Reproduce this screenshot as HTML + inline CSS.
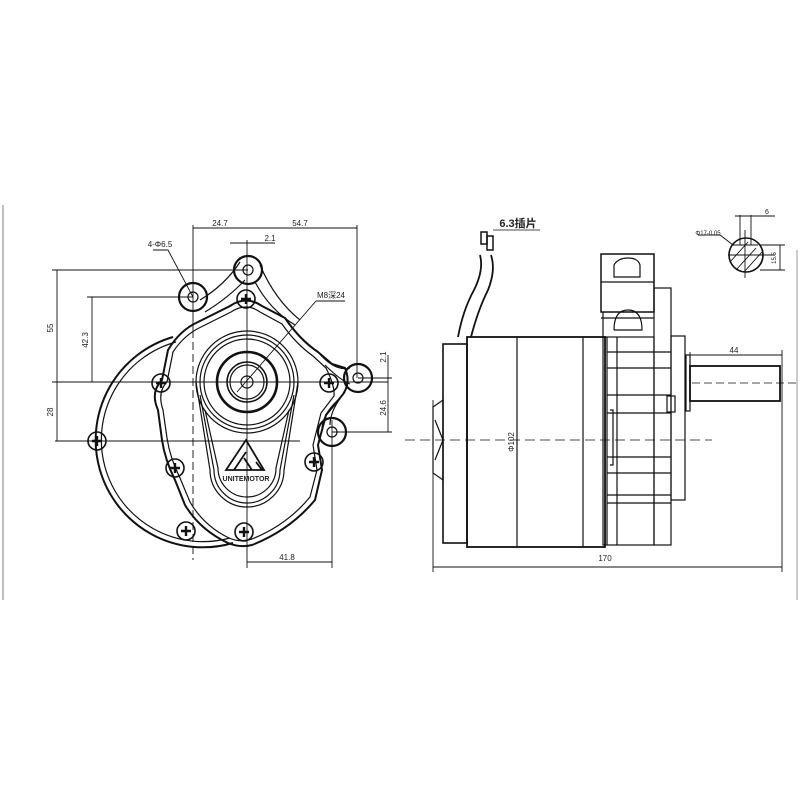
<!DOCTYPE html>
<html><head><meta charset="utf-8"><style>
html,body{margin:0;padding:0;background:#fff;}
svg{display:block;}
text{font-family:"Liberation Sans","Noto Sans CJK SC",sans-serif;fill:#222;}
</style></head><body>
<svg width="800" height="800" viewBox="0 0 800 800" xmlns="http://www.w3.org/2000/svg">
<rect width="800" height="800" fill="#fff"/>
<line x1="3" y1="205" x2="3" y2="600" stroke="#aaa" stroke-width="1.5"/>
<line x1="797" y1="250" x2="797" y2="600" stroke="#bbb" stroke-width="1.5"/>

<g fill="none" stroke="#111" stroke-width="1.2">
<!-- LEFT VIEW -->
<path d="M173,337 A103,103 0 1 0 233,543" stroke-width="2"/>
<path d="M176,342 A98,98 0 1 0 230,538"/>
<path d="M198,322 L230,306 Q246,295 262,306 L285,318 Q300,340 318,352 L332,364 L345,368 Q352,385 340,398 L326,415 L318,445 L322,470 L315,500 Q290,530 252,545 Q240,548 228,543 Q200,530 185,505 L175,480 Q165,460 162,440 L158,410 Q150,392 162,380 L168,350 Q180,330 198,322 Z" stroke-width="2"/>
<path d="M201,327 L231,312 Q246,302 260,312 L282,324 Q296,344 313,356 L326,368 Q335,386 334,396 L321,413 L313,445 L317,470 L310,497 Q287,525 252,539 Q240,543 229,538 Q204,526 190,502 L180,478 Q170,458 167,438 L163,410 Q157,392 167,382 L173,352 Q184,335 201,327 Z"/>
<path d="M200,300 Q225,285 240,262 M205,312 Q228,298 245,280 M260,265 Q275,300 300,320 M255,282 Q270,310 295,325"/>
<path d="M318,352 Q335,372 350,368 M325,365 Q340,380 350,384 M345,392 Q330,410 330,425 M338,400 Q322,415 322,430"/>
<circle cx="248" cy="270" r="14" stroke-width="2.2"/><circle cx="248" cy="270" r="5"/>
<circle cx="193" cy="297" r="14" stroke-width="2.2"/><circle cx="193" cy="297" r="5"/>
<circle cx="358" cy="378" r="14" stroke-width="2.2"/><circle cx="358" cy="378" r="5"/>
<circle cx="332" cy="432" r="14" stroke-width="2.2"/><circle cx="332" cy="432" r="5"/>
<g stroke-width="1.6">
<circle cx="246" cy="299" r="9"/><circle cx="161" cy="383" r="9"/><circle cx="329" cy="383" r="9"/>
<circle cx="97" cy="441" r="9"/><circle cx="175" cy="468" r="9"/><circle cx="186" cy="531" r="9"/>
<circle cx="244" cy="532" r="9"/><circle cx="314" cy="462" r="9"/>
</g>
<g stroke-width="2.4">
<path d="M241,299h10M246,294v10 M156,383h10M161,378v10 M324,383h10M329,378v10 M92,441h10M97,436v10 M170,468h10M175,463v10 M181,531h10M186,526v10 M239,532h10M244,527v10 M309,462h10M314,457v10"/>
</g>
<circle cx="247" cy="382" r="51"/><circle cx="247" cy="382" r="47"/><circle cx="247" cy="382" r="43"/>
<path d="M196,382 L210,470 A37,37 0 0 0 284,470 L298,382"/>
<path d="M200,395 L214,470 A33,33 0 0 0 280,470 L294,395"/>
<path d="M205,410 L218,468 A29,29 0 0 0 276,468 L289,410"/>
<circle cx="247" cy="382" r="30" stroke-width="2.6"/>
<circle cx="247" cy="382" r="20" stroke-width="1.6"/><circle cx="247" cy="382" r="17"/>
<circle cx="247" cy="382" r="6"/>
<path d="M226,470 L246,440 L264,470 Z M234,470 L246,452 M252,470 L244,458 M256,462 L262,470" stroke-width="1.8"/>
<g stroke-width="0.9">
<line x1="52" y1="382" x2="388" y2="382"/>
<line x1="247" y1="240" x2="247" y2="568"/>
<line x1="55" y1="441" x2="300" y2="441"/>
<line x1="193" y1="225" x2="193" y2="330" />
<line x1="193" y1="330" x2="193" y2="560" stroke-dasharray="8,4"/>
<line x1="332" y1="420" x2="332" y2="568"/>
<line x1="357" y1="225" x2="357" y2="378"/>
<line x1="193" y1="228" x2="357" y2="228"/>
<line x1="230" y1="243" x2="275" y2="243"/>
<line x1="52" y1="270" x2="248" y2="270"/>
<line x1="87" y1="297" x2="193" y2="297"/>
<line x1="57" y1="270" x2="57" y2="441"/>
<line x1="92" y1="297" x2="92" y2="382"/>
<line x1="358" y1="378" x2="392" y2="378"/>
<line x1="332" y1="432" x2="392" y2="432"/>
<line x1="388" y1="355" x2="388" y2="432"/>
<line x1="247" y1="562" x2="332" y2="562"/>
<path d="M153,250 L168,250 L193,297 M316,301 L345,301 M316,301 L237,392"/>
</g>
</g>
<g font-size="8" text-anchor="middle">
<text x="220" y="226">24.7</text>
<text x="300" y="226">54.7</text>
<text x="270" y="241">2.1</text>
<text x="287" y="560">41.8</text>
<text x="160" y="247">4-Φ6.5</text>
<text x="331" y="298">M8深24</text>
<text transform="translate(53,328) rotate(-90)">55</text>
<text transform="translate(88,340) rotate(-90)">42.3</text>
<text transform="translate(53,412) rotate(-90)">28</text>
<text transform="translate(386,357) rotate(-90)">2.1</text>
<text transform="translate(386,408) rotate(-90)">24.6</text>
<text x="246" y="481" font-size="7" font-weight="bold">UNITEMOTOR</text>
</g>

<!-- RIGHT VIEW -->
<g fill="none" stroke="#111" stroke-width="1.2">
<rect x="467" y="337" width="138" height="210" stroke-width="1.8"/>
<line x1="517" y1="337" x2="517" y2="547"/><line x1="583" y1="337" x2="583" y2="547"/>
<rect x="443" y="344" width="24" height="199" stroke-width="1.6"/>
<path d="M433,407 L443,400 L443,480 L433,473 Z M435,420 L443,440 L435,460"/>
<rect x="603" y="337" width="51" height="208"/>
<line x1="607" y1="337" x2="607" y2="545"/><line x1="617" y1="337" x2="617" y2="545"/>
<rect x="654" y="288" width="17" height="257"/>
<rect x="601" y="254" width="53" height="58" stroke-width="1.5"/>
<line x1="601" y1="282" x2="654" y2="282"/>
<path d="M614,265 Q618,258 628,258 Q638,258 640,265 L640,277 L614,277 Z M614,330 Q614,310 628,310 Q642,310 642,330 L614,330"/>
<path d="M603,312 L603,337 M601,318 L654,318"/>
<path d="M607,352H671 M607,368H671 M607,395H671 M607,413H671 M607,457H671 M607,473H671 M607,495H671 M607,503H671"/>
<path d="M610,410 L613,410 L613,465 L610,465"/>
<rect x="671" y="336" width="14" height="164"/>
<rect x="667" y="396" width="8" height="16"/>
<rect x="686" y="355" width="4" height="56"/>
<rect x="690" y="366" width="90" height="35" stroke-width="1.8"/>
<line x1="692" y1="383" x2="800" y2="383" stroke-dasharray="8,4" stroke-width="0.8"/>
<line x1="405" y1="440" x2="712" y2="440" stroke-dasharray="10,5" stroke-width="0.8"/>
<path d="M458,337 Q463,310 474,290 Q484,270 480,255 M471,337 Q478,310 488,290 Q496,270 491,255" stroke-width="1.8"/>
<rect x="481" y="232" width="6" height="12" stroke-width="1.5"/>
<rect x="487" y="236" width="6" height="14" stroke-width="1.5"/>
<line x1="493" y1="230" x2="540" y2="230" stroke-width="0.8"/>
<g stroke-width="0.9">
<line x1="433" y1="400" x2="433" y2="572"/>
<line x1="782" y1="350" x2="782" y2="572"/>
<line x1="433" y1="567" x2="782" y2="567"/>
<line x1="690" y1="355" x2="782" y2="355"/>
<line x1="690" y1="352" x2="690" y2="366"/>
</g>
<circle cx="746" cy="255" r="17" stroke-width="1.6"/>
<path d="M733,245 L758,245 M736,270 L756,248 M730,262 L748,242 M744,272 L762,252" stroke-width="0.9"/>
<path d="M740,215 L740,245 M751,215 L751,245 M735,216 L775,216 M745,230 L745,278 M728,255 L775,255 M760,245 L785,245 M760,270 L785,270 M780,245 L780,270 M698,235 L720,235 L733,245" stroke-width="0.9"/>
</g>
<g font-size="8" text-anchor="middle">
<text x="605" y="561">170</text>
<text x="734" y="353">44</text>
<text transform="translate(514,442) rotate(-90)">Φ102</text>
<text x="518" y="227" font-size="11" font-weight="bold">6.3插片</text>
<text x="708" y="235" font-size="6">Φ17-0.05</text>
<text x="767" y="214" font-size="7">6</text>
<text transform="translate(776,258) rotate(-90)" font-size="6">15.5</text>
</g>
</svg>
</body></html>
